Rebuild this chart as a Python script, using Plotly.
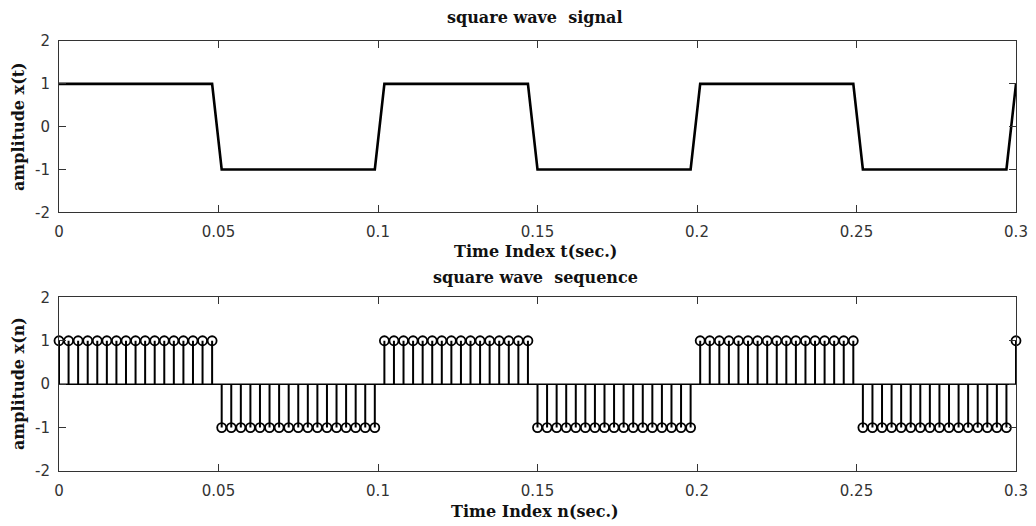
import plotly.graph_objects as go

# Sampling: 101 samples at Ts = 0.003 s (0 .. 0.3 s)
Ts = 0.003
n_samples = 101
t = [round(k * Ts, 3) for k in range(n_samples)]

# Square wave amplitudes, one value per sample
x_vals = [
    1, 1, 1, 1, 1, 1, 1, 1, 1, 1, 1, 1, 1, 1, 1, 1, 1,
    -1, -1, -1, -1, -1, -1, -1, -1, -1, -1, -1, -1, -1, -1, -1, -1, -1,
    1, 1, 1, 1, 1, 1, 1, 1, 1, 1, 1, 1, 1, 1, 1, 1,
    -1, -1, -1, -1, -1, -1, -1, -1, -1, -1, -1, -1, -1, -1, -1, -1, -1,
    1, 1, 1, 1, 1, 1, 1, 1, 1, 1, 1, 1, 1, 1, 1, 1, 1,
    -1, -1, -1, -1, -1, -1, -1, -1, -1, -1, -1, -1, -1, -1, -1, -1,
    1,
]

x_ticks = [0, 0.05, 0.1, 0.15, 0.2, 0.25, 0.3]
x_tick_text = ["0", "0.05", "0.1", "0.15", "0.2", "0.25", "0.3"]
y_ticks = [-2, -1, 0, 1, 2]
y_tick_text = ["-2", "-1", "0", "1", "2"]

W, H = 1036, 526
label_font = dict(family="DejaVu Serif", size=16, color="#111111", weight="bold")
tick_font = dict(family="DejaVu Sans", size=15, color="#333333")

fig = go.Figure()

# Continuous signal (top)
fig.add_trace(go.Scatter(
    x=t, y=x_vals, mode="lines",
    line=dict(color="black", width=2.6),
    xaxis="x", yaxis="y", showlegend=False, cliponaxis=False,
))

# Stem lines (bottom)
stem_x, stem_y = [], []
for ti, vi in zip(t, x_vals):
    stem_x += [ti, ti, None]
    stem_y += [0, vi, None]
fig.add_trace(go.Scatter(
    x=stem_x, y=stem_y, mode="lines",
    line=dict(color="black", width=2),
    xaxis="x2", yaxis="y2", showlegend=False,
))
# Baseline
fig.add_trace(go.Scatter(
    x=[t[0], t[-1]], y=[0, 0], mode="lines",
    line=dict(color="black", width=1.5),
    xaxis="x2", yaxis="y2", showlegend=False,
))
# Stem heads
fig.add_trace(go.Scatter(
    x=t, y=x_vals, mode="markers",
    marker=dict(symbol="circle-open", size=9, color="black", line=dict(width=1.8)),
    xaxis="x2", yaxis="y2", showlegend=False, cliponaxis=False,
))

x_dom = [59 / W, 1016 / W]
top_dom = [1 - 212.3 / H, 1 - 41 / H]
bot_dom = [1 - 471 / H, 1 - 297.3 / H]

axis_common = dict(
    showline=True, linecolor="#333333", linewidth=1, mirror="ticks",
    ticks="inside", ticklen=7, tickcolor="#333333", tickwidth=1,
    showgrid=False, zeroline=False, tickfont=tick_font, automargin=False,
)

fig.update_layout(
    width=W, height=H,
    margin=dict(l=0, r=0, t=0, b=0),
    paper_bgcolor="white", plot_bgcolor="white",
    xaxis=dict(domain=x_dom, anchor="y", range=[0, 0.3],
               tickvals=x_ticks, ticktext=x_tick_text, ticklabelstandoff=6, **axis_common),
    yaxis=dict(domain=top_dom, anchor="x", range=[-2, 2],
               tickvals=y_ticks, ticktext=y_tick_text, ticklabelstandoff=5, **axis_common),
    xaxis2=dict(domain=x_dom, anchor="y2", range=[0, 0.3],
                tickvals=x_ticks, ticktext=x_tick_text, ticklabelstandoff=6, **axis_common),
    yaxis2=dict(domain=bot_dom, anchor="x2", range=[-2, 2],
                tickvals=y_ticks, ticktext=y_tick_text, ticklabelstandoff=5, **axis_common),
)


def px_note(text, xpx, ypx, angle=0):
    fig.add_annotation(
        text=text, x=xpx / W, y=1 - ypx / H, xref="paper", yref="paper",
        xanchor="center", yanchor="middle", showarrow=False,
        font=label_font, textangle=angle,
    )


px_note("square wave  signal", 534, 18)
px_note("Time Index t(sec.)", 535, 251)
px_note("amplitude x(t)", 18, 127, angle=-90)
px_note("square wave  sequence", 535, 277)
px_note("Time Index n(sec.)", 535, 511)
px_note("amplitude x(n)", 18, 384, angle=-90)

fig.write_html("out.html")
